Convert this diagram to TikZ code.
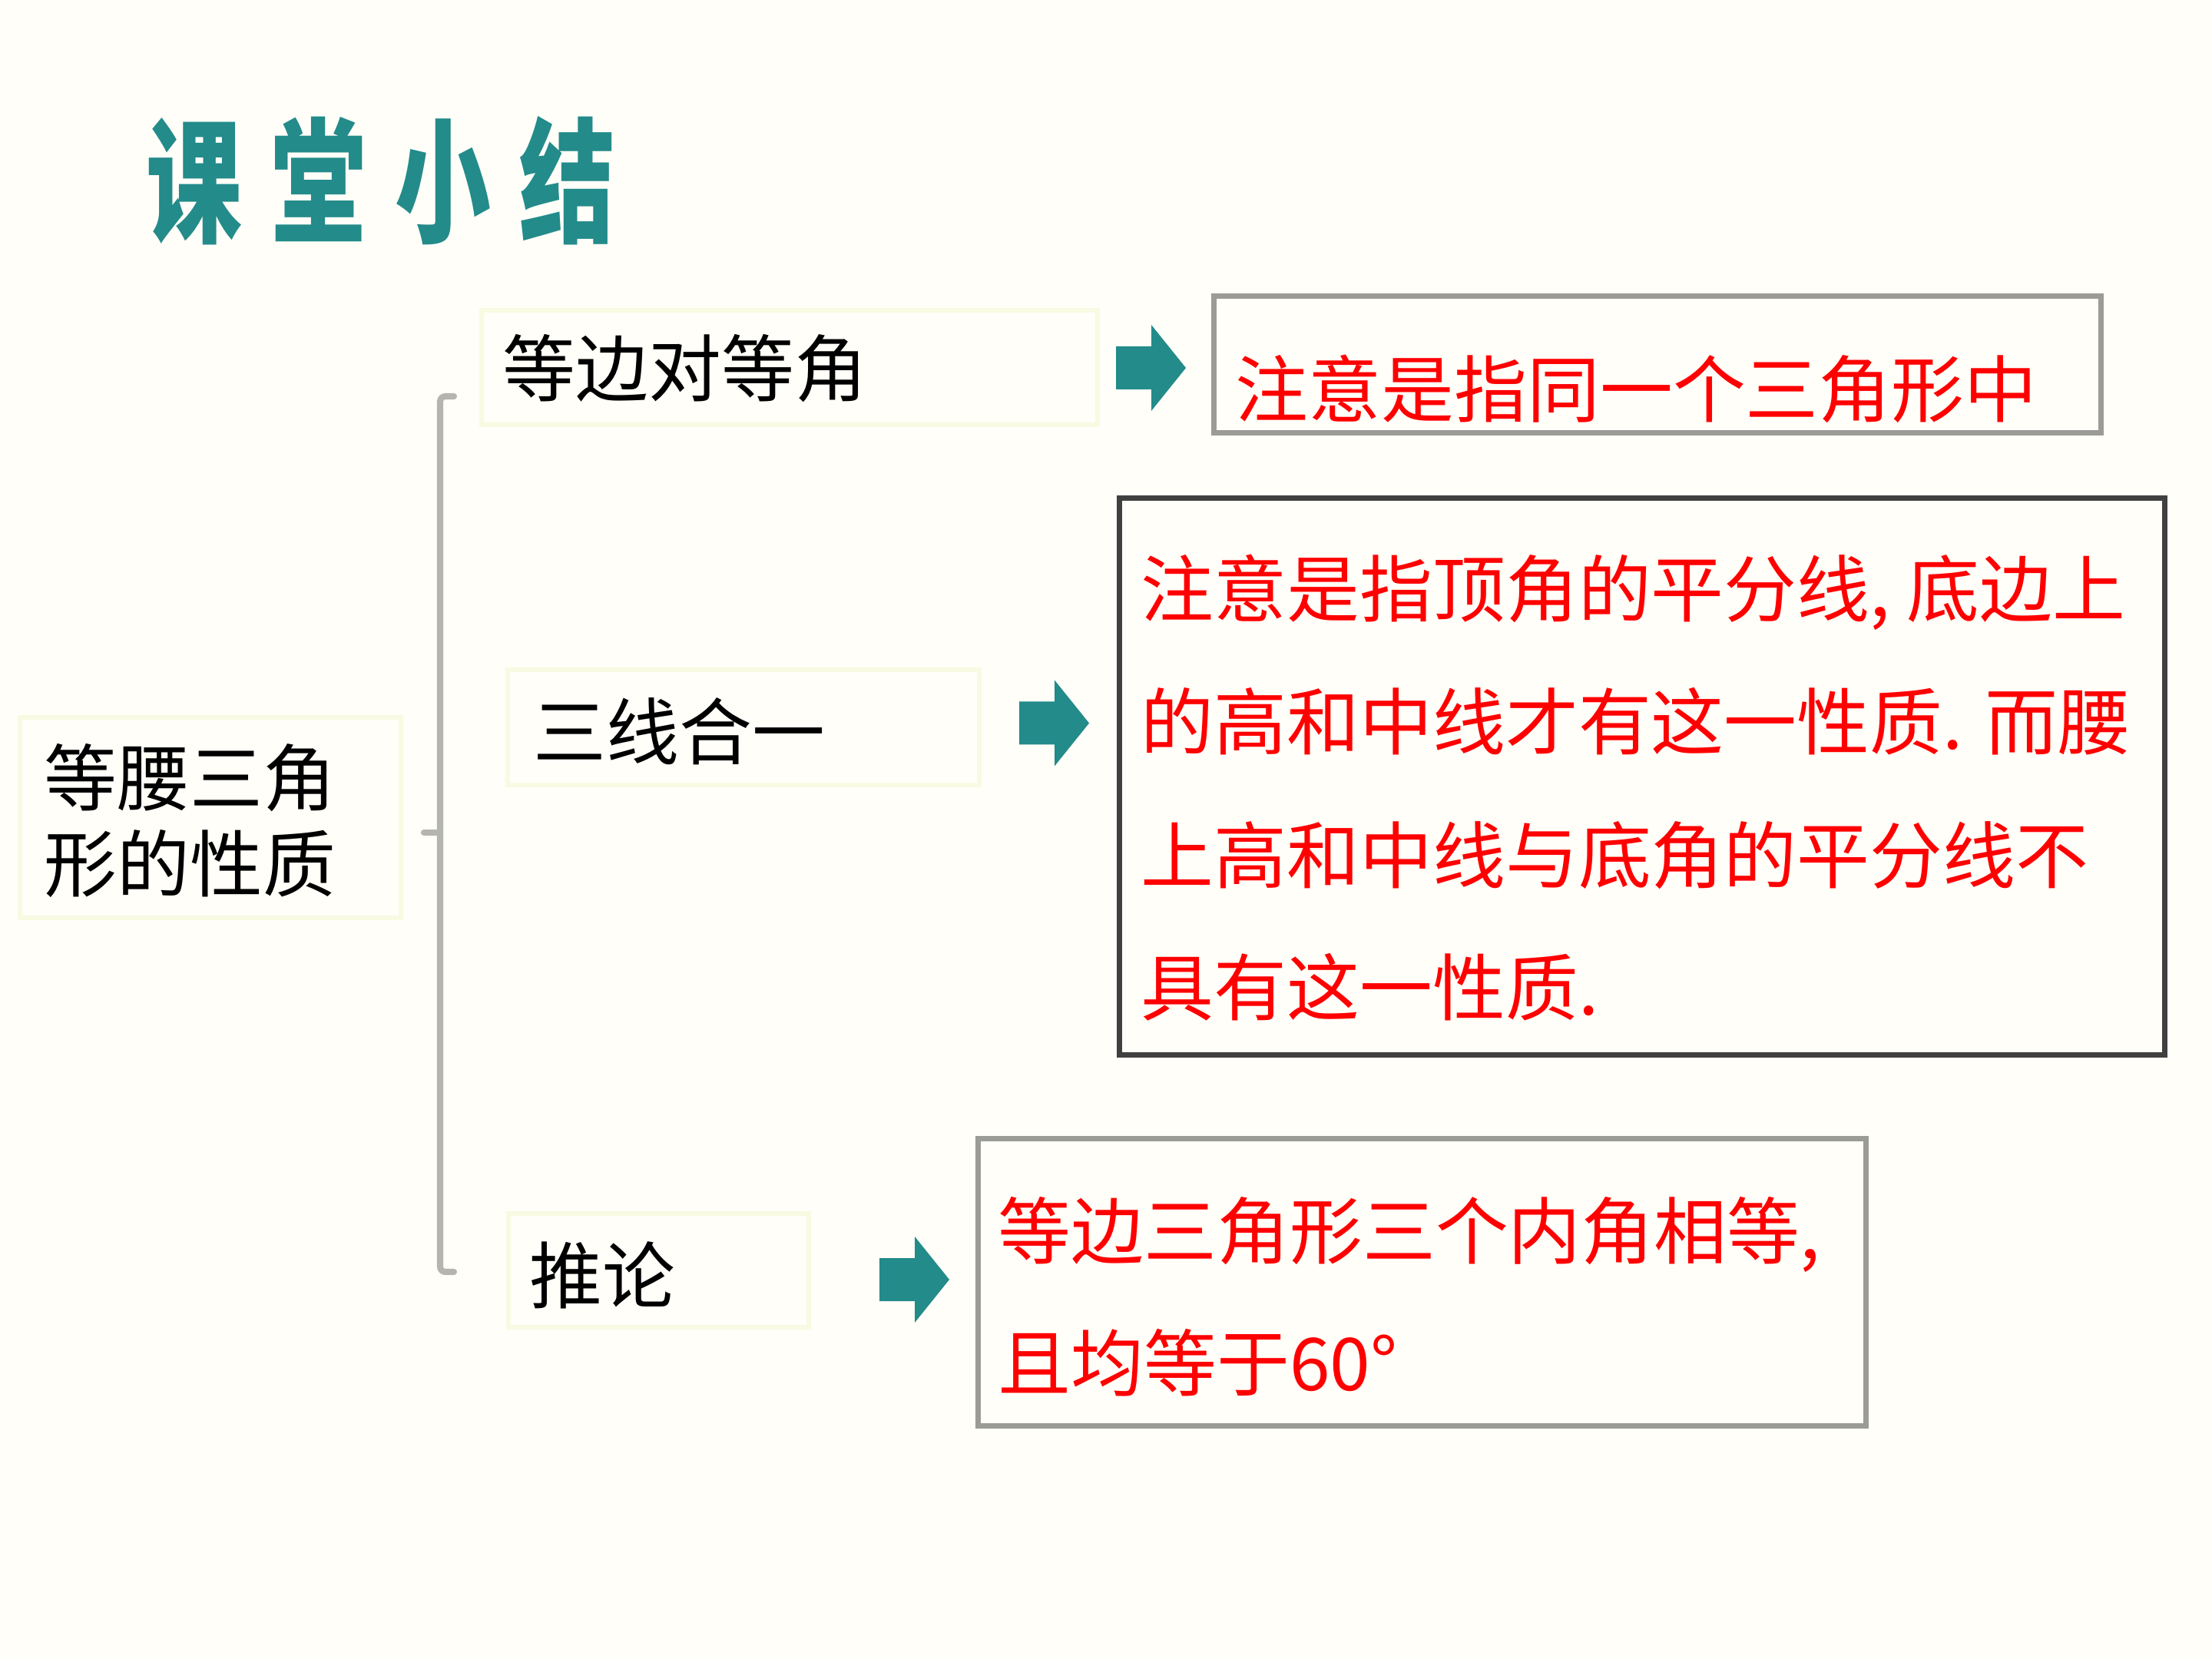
\documentclass[tikz,border=0pt]{standalone}
\usepackage{fontspec}
\setmainfont{Noto Sans CJK SC}
\usepackage{graphicx}
\definecolor{bgcol}{RGB}{255,254,248}
\definecolor{tealc}{RGB}{35,139,138}
\definecolor{faint}{RGB}{249,250,226}
\definecolor{lgray}{RGB}{155,155,152}
\definecolor{dgray}{RGB}{64,64,64}
\definecolor{brgray}{RGB}{180,180,176}
\newcommand{\bigsize}{\fontsize{27pt}{32pt}\selectfont}
\tikzset{
  faintbox/.style={draw=faint, line width=1.6pt, anchor=north west, inner sep=0pt},
  notebox/.style={draw=lgray, line width=2pt, anchor=north west, inner sep=0pt},
  txt/.style={anchor=base west, inner sep=0pt, font=\bigsize},
  redtxt/.style={txt, text=red},
  titlechar/.style={anchor=base west, inner sep=0pt, text=tealc, font=\bfseries\fontsize{50pt}{60pt}\selectfont},
  bracket/.style={draw=brgray, line width=2.3pt, line cap=round, rounded corners=2pt}
}

\begin{document}
\begin{tikzpicture}
            \fill[bgcol] (0,0) rectangle (28.8,-21.6);
            \useasboundingbox (0,0) rectangle (28.8,-21.6);

            % title
            \foreach \c [count=\i] in {课,堂,小,结}{
                \node[titlechar] (title\i) at (1.90+1.62*\i-1.62,-3.03) {\scalebox{0.71}[1]{\c}};
            }

            % left part
            \node[faintbox, minimum width=4.96cm, minimum height=2.61cm] (prop) at (0.23,-9.31) {};
            \node[txt] (prop1) at (0.57,-10.49) {等腰三角};
            \node[txt] (prop2) at (0.57,-11.60) {形的性质};

            \coordinate (brtop) at (5.73,-5.16);
            \coordinate (brmid) at (5.73,-10.84);
            \coordinate (brbot) at (5.73,-16.56);
            \draw[bracket] ([xshift=0.18cm]brtop) -- (brtop) -- (brbot) -- ([xshift=0.18cm]brbot);
            \draw[bracket] (brmid) -- ([xshift=-0.21cm]brmid);

            % three branches
            \node[faintbox, minimum width=8.02cm, minimum height=1.49cm] (bian) at (6.24,-4.01) {};
            \node[txt] (biantxt) at (6.54,-5.16) {等边对等角};
            \node[faintbox, minimum width=6.14cm, minimum height=1.50cm] (sanxian) at (6.58,-8.69) {};
            \node[txt] (sanxiantxt) at (6.94,-9.88) {三线合一};
            \node[faintbox, minimum width=3.91cm, minimum height=1.48cm] (tuilun) at (6.59,-15.77) {};
            \node[txt] (tuiluntxt) at (6.89,-16.96) {推论};

            % block arrows
            \foreach \x/\y in {14.53/-4.79, 13.27/-9.415, 11.45/-16.66}{
                \fill[tealc] (\x,\y) ++(0,0.28) -- ++(0.46,0) -- ++(0,0.28) -- ++(0.45,-0.56)
                    -- ++(-0.45,-0.56) -- ++(0,0.28) -- ++(-0.46,0) -- cycle;
            }

            % notes
            \node[notebox, minimum width=11.55cm, minimum height=1.78cm] (note1) at (15.77,-3.82) {};
            \node[redtxt] (note1txt) at (16.08,-5.43) {注意是指同一个三角形中};

            \node[notebox, draw=dgray, minimum width=13.61cm, minimum height=7.25cm] (note2) at (14.54,-6.45) {};
            \foreach \ln [count=\i] in {{注意是指顶角的平分线, 底边上},{的高和中线才有这一性质. 而腰},{上高和中线与底角的平分线不},{具有这一性质.}}{
                \node[redtxt] (note2txt\i) at (14.85,-8.03-1.73*\i+1.73) {\ln};
            }

            \node[notebox, minimum width=11.56cm, minimum height=3.74cm] (note3) at (12.70,-14.79) {};
            \node[redtxt] (note3txt1) at (12.99,-16.38) {等边三角形三个内角相等,};
            \node[redtxt] (note3txt2) at (12.99,-18.10) {且均等于60°};
\end{tikzpicture}
\end{document}
